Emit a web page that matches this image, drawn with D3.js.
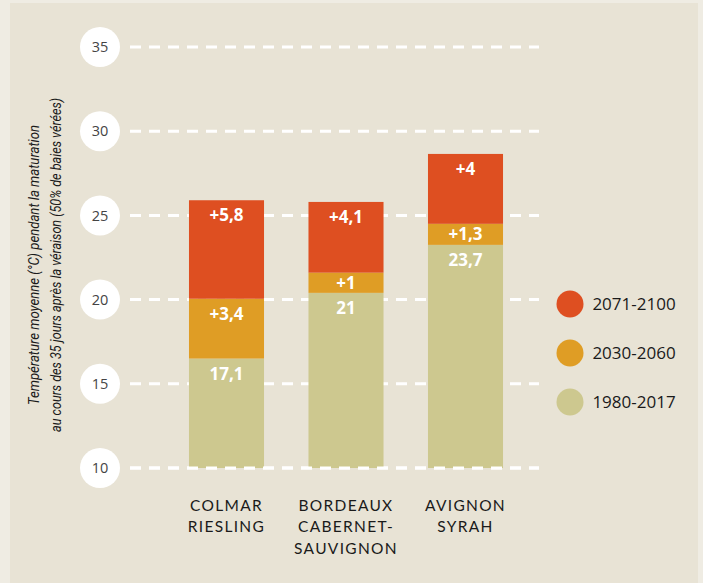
<!DOCTYPE html>
<html><head><meta charset="utf-8">
<script src="https://cdn.jsdelivr.net/npm/d3@7"></script>
<style>html,body{margin:0;padding:0;background:#efece3;}svg{display:block;}</style>
</head><body>
<svg id="c" width="703" height="583"></svg>
<script>
// Data (heights as drawn in the reference; labels as printed)
const categories = ["COLMAR|RIESLING", "BORDEAUX|CABERNET-|SAUVIGNON", "AVIGNON|SYRAH"];
const base19802017 = [16.5, 20.4, 23.25];
const add20302060 = [3.55, 1.2, 1.25];
const add20712100 = [5.85, 4.2, 4.15];
const labelsBase = ["17,1", "21", "23,7"];
const labelsMid = ["+3,4", "+1", "+1,3"];
const labelsTop = ["+5,8", "+4,1", "+4"];
const yTicks = [10, 15, 20, 25, 30, 35];
const seriesNames = ["2071-2100", "2030-2060", "1980-2017"];
const seriesColors = ["#de4f21", "#df9d25", "#cdc88f"];

const svg = d3.select("#c");
svg.append("rect").attr("x", 10).attr("y", 3).attr("width", 688).attr("height", 580).attr("fill", "#e8e3d5");

const y = d3.scaleLinear().domain([10, 35]).range([468, 47]);
const x = d3.scaleBand().domain(categories).range([166.75, 525.25]).paddingInner(0.372).paddingOuter(0.186);
const yMin = y.domain()[0];

// gridlines
const dash = "11,8";
svg.append("g").selectAll("line").data(yTicks).join("line")
  .attr("x1", 130).attr("x2", 539)
  .attr("y1", d => y(d)).attr("y2", d => y(d))
  .attr("stroke", "#fff").attr("stroke-width", 3).attr("stroke-dasharray", dash);

// bars
const rows = categories.map((c, i) => ({cat: c, base: base19802017[i], mid: add20302060[i], top: add20712100[i]}));
const stack = d3.stack().keys(["base", "mid", "top"])(rows);
const colorFor = {base: seriesColors[2], mid: seriesColors[1], top: seriesColors[0]};
const labelFor = {base: labelsBase, mid: labelsMid, top: labelsTop};
stack.forEach(layer => {
  svg.append("g").selectAll("rect").data(layer).join("rect")
    .attr("x", d => x(d.data.cat))
    .attr("width", x.bandwidth())
    .attr("y", d => y(d[1]))
    .attr("height", d => y(Math.max(d[0], yMin)) - y(d[1]))
    .attr("fill", colorFor[layer.key]);
});
// bottom gridline drawn over bars
svg.append("line").attr("x1", 130).attr("x2", 539).attr("y1", y(yMin)).attr("y2", y(yMin))
  .attr("stroke", "#fff").attr("stroke-width", 3).attr("stroke-dasharray", dash);

stack.forEach(layer => {
  svg.append("g").selectAll("text").data(layer).join("text")
    .attr("x", d => x(d.data.cat) + x.bandwidth() / 2)
    .attr("y", d => Math.min(y(d[1]) + 21, (y(d[1]) + y(d[0])) / 2 + 6))
    .attr("text-anchor", "middle")
    .attr("font-family", "'Open Sans', sans-serif")
    .attr("font-weight", 700).attr("font-size", 17)
    .attr("fill", "#fff")
    .text((d, i) => labelFor[layer.key][i]);
});

// y tick circles
const tk = svg.append("g").selectAll("g").data(yTicks).join("g")
  .attr("transform", d => `translate(100,${y(d)})`);
tk.append("circle").attr("r", 20).attr("fill", "#fff");
tk.append("text").attr("text-anchor", "middle").attr("dy", "0.36em")
  .attr("font-family", "'Open Sans', sans-serif").attr("font-size", 14.5)
  .attr("fill", "#444").text(d => d);

// x labels
categories.forEach(c => {
  const t = svg.append("text").attr("text-anchor", "middle")
    .attr("font-family", "Lato, sans-serif").attr("font-size", 15.5)
    .attr("letter-spacing", 1.3).attr("fill", "#1a1a1a");
  c.split("|").forEach((line, j) => {
    t.append("tspan").attr("x", x(c) + x.bandwidth() / 2).attr("y", 511 + j * 21.3).text(line);
  });
});

// y axis title
const yt = svg.append("g").attr("transform", "translate(0,265) rotate(-90)");
const titleLines = ["Température moyenne (°C) pendant la maturation",
  "au cours des 35 jours après la véraison (50% de baies vérées)"];
const titleLens = [280, 334];
yt.selectAll("text").data(titleLines).join("text")
  .attr("x", 0).attr("y", (d, i) => 38.5 + i * 22).attr("text-anchor", "middle")
  .attr("font-family", "'Liberation Sans Narrow', Roboto, sans-serif").attr("font-style", "italic").attr("font-size", 14.5)
  .attr("textLength", (d, i) => titleLens[i]).attr("lengthAdjust", "spacingAndGlyphs").attr("fill", "#1a1a1a")
  .text(d => d);

// legend
const ly = d3.scalePoint().domain(seriesNames).range([304, 402]);
const lg = svg.append("g").selectAll("g").data(seriesNames).join("g")
  .attr("transform", d => `translate(0,${ly(d)})`);
lg.append("circle").attr("cx", 570).attr("r", 13.5).attr("fill", (d, i) => seriesColors[i]);
lg.append("text").attr("x", 634).attr("dy", "0.36em").attr("text-anchor", "middle")
  .attr("font-family", "'Open Sans', sans-serif").attr("font-size", 17).attr("fill", "#1a1a1a")
  .text(d => d);
</script>
</body></html>
